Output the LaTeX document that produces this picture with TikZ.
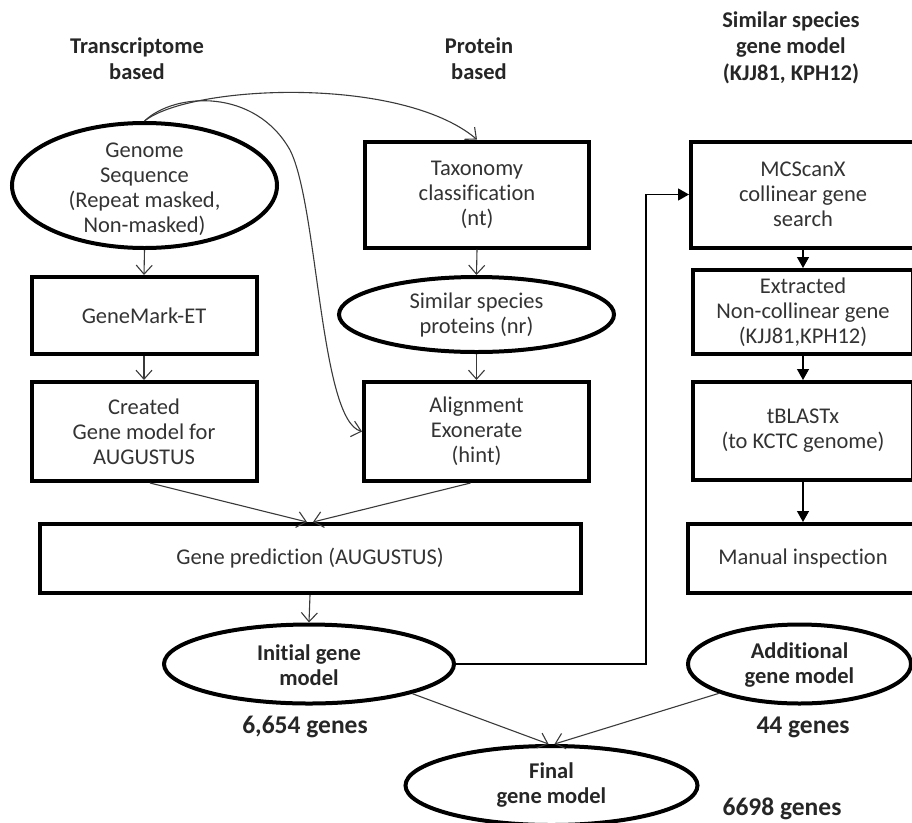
\documentclass[tikz,border=0pt]{standalone}
\usepackage{fontspec}
\setmainfont{Carlito}[Ligatures={NoCommon,NoDiscretionary,NoContextual},RawFeature={-liga;-clig;-dlig}]
\usetikzlibrary{shapes.geometric,arrows.meta}
\definecolor{txtgray}{HTML}{333333}
\definecolor{linegray}{HTML}{3A3A3A}
\newcommand{\tiSep}{t\kern0pt i}
\begin{document}
\begin{tikzpicture}[x=1pt,y=-1pt,
 box/.style={draw, line width=4pt, rectangle, inner sep=0pt, align=center, font=\fontsize{22.5}{25}\selectfont, text=txtgray},
 oval/.style={draw, line width=4pt, ellipse, inner sep=0pt},
 txt/.style={align=center, inner sep=0pt, font=\fontsize{22.5}{25}\selectfont, text=txtgray},
 btxt/.style={align=center, inner sep=0pt, font=\bfseries\fontsize{22.5}{26.5}\selectfont, text=black!85},
 bin/.style={align=center, inner sep=0pt, font=\bfseries\fontsize{22.5}{25}\selectfont, text=black!85},
 big/.style={align=center, inner sep=0pt, font=\bfseries\fontsize{25.5}{28}\selectfont, text=black!85},
 openarr/.style={draw=linegray, line width=1.1pt, -{Straight Barb[length=9pt,width=16pt]}},
 fillarr/.style={draw=black, line width=1.2pt, -{Triangle[length=11pt,width=12pt]}},
]
\useasboundingbox (0,0) rectangle (912,822);
\clip (0,0) rectangle (912,822);

% titles
\node[btxt] (t1) at (137,58.5) {Transcriptome\\based};
\node[btxt] (t2) at (479,58.5) {Protein\\based};
\node[btxt] (t3) at (791,47.5) {Similar species\\gene model\\(KJJ81, KPH12)};

% left column
\node[oval, minimum width=265pt, minimum height=125pt] (genome) at (144.5,185.5) {};
\node[txt] (genomeT) at (144.5,189) {Genome\\Sequence\\(Repeat masked,\\Non-masked)};
\node[box, minimum width=225pt, minimum height=77pt] (gmet) at (144,315.5) {GeneMark-ET};
\node[box, minimum width=225pt, minimum height=99pt] (created) at (144,431.5) {Created\\Gene model for\\AUGUSTUS};

% middle column
\node[box, minimum width=224pt, minimum height=106pt] (tax) at (477,194.5) {Taxonomy\\classifica\tiSep on\\(nt)};
\node[oval, minimum width=275pt, minimum height=75pt] (prot) at (476.5,314.5) {};
\node[txt] (protT) at (476.5,315) {Similar species\\proteins (nr)};
\node[box, minimum width=225pt, minimum height=99pt] (align) at (476.5,431.5) {Alignment\\Exonerate\\(hint)};

\node[box, minimum width=541pt, minimum height=69pt] (pred) at (310,558.5) {Gene predic\tiSep on (AUGUSTUS)};
\node[oval, minimum width=290pt, minimum height=79pt] (init) at (309,664) {};
\node[bin] (initT) at (309,665) {Ini\tiSep al gene\\model};
\node[big] (n1) at (305,727) {6,654 genes};

% right column
\node[box, minimum width=224pt, minimum height=106pt] (mcs) at (803,194.5) {MCScanX\\collinear gene\\search};
\node[box, minimum width=220pt, minimum height=84pt] (ext) at (803,312) {Extracted\\Non-collinear gene\\(KJJ81,KPH12)};
\node[box, minimum width=220pt, minimum height=98pt] (tbl) at (803,431) {tBLASTx\\(to KCTC genome)};
\node[box, minimum width=230pt, minimum height=69pt] (man) at (803,558.5) {Manual inspec\tiSep on};
\node[oval, minimum width=223pt, minimum height=79pt] (add) at (799.5,664) {};
\node[bin] (addT) at (799.5,665) {Addi\tiSep onal\\gene model};
\node[big] (n2) at (803,727) {44 genes};

% final
\node[oval, minimum width=292pt, minimum height=79pt] (final) at (551.5,785.5) {};
\node[bin] (finalT) at (551.5,785) {Final\\gene model};
\node[big] (n3) at (782,809) {6698 genes};

% open connectors
\draw[openarr] (genome.south) -- (gmet.north);
\draw[openarr] (gmet.south) -- (created.north);
\draw[openarr] (tax.south) -- (prot.north);
\draw[openarr] (prot.south) -- (align.north);
\draw[openarr] ([xshift=6pt]created.south) -- ([xshift=-3pt]pred.north);
\draw[openarr] ([xshift=-6pt]align.south) -- ([xshift=3pt]pred.north);
\draw[openarr] (pred.south) -- (init.north);
\draw[openarr] (init.-16) -- ([xshift=-3pt]final.north);
\draw[openarr] (add.200) -- ([xshift=3pt]final.north);
\draw[openarr] (genome.north) .. controls (190,85) and (400,75) .. (tax.north);
\draw[openarr] (genome.north) .. controls (175,92) and (255,88) .. (290,150) .. controls (318,205) and (320,420) .. (align.west);

% filled connectors
\coordinate (elbow) at (646,664);
\draw[fillarr] (init.east) -- (elbow) |- (mcs.west);
\draw[fillarr] (mcs.south) -- (ext.north);
\draw[fillarr] (ext.south) -- (tbl.north);
\draw[fillarr] (tbl.south) -- (man.north);
\end{tikzpicture}
\end{document}
